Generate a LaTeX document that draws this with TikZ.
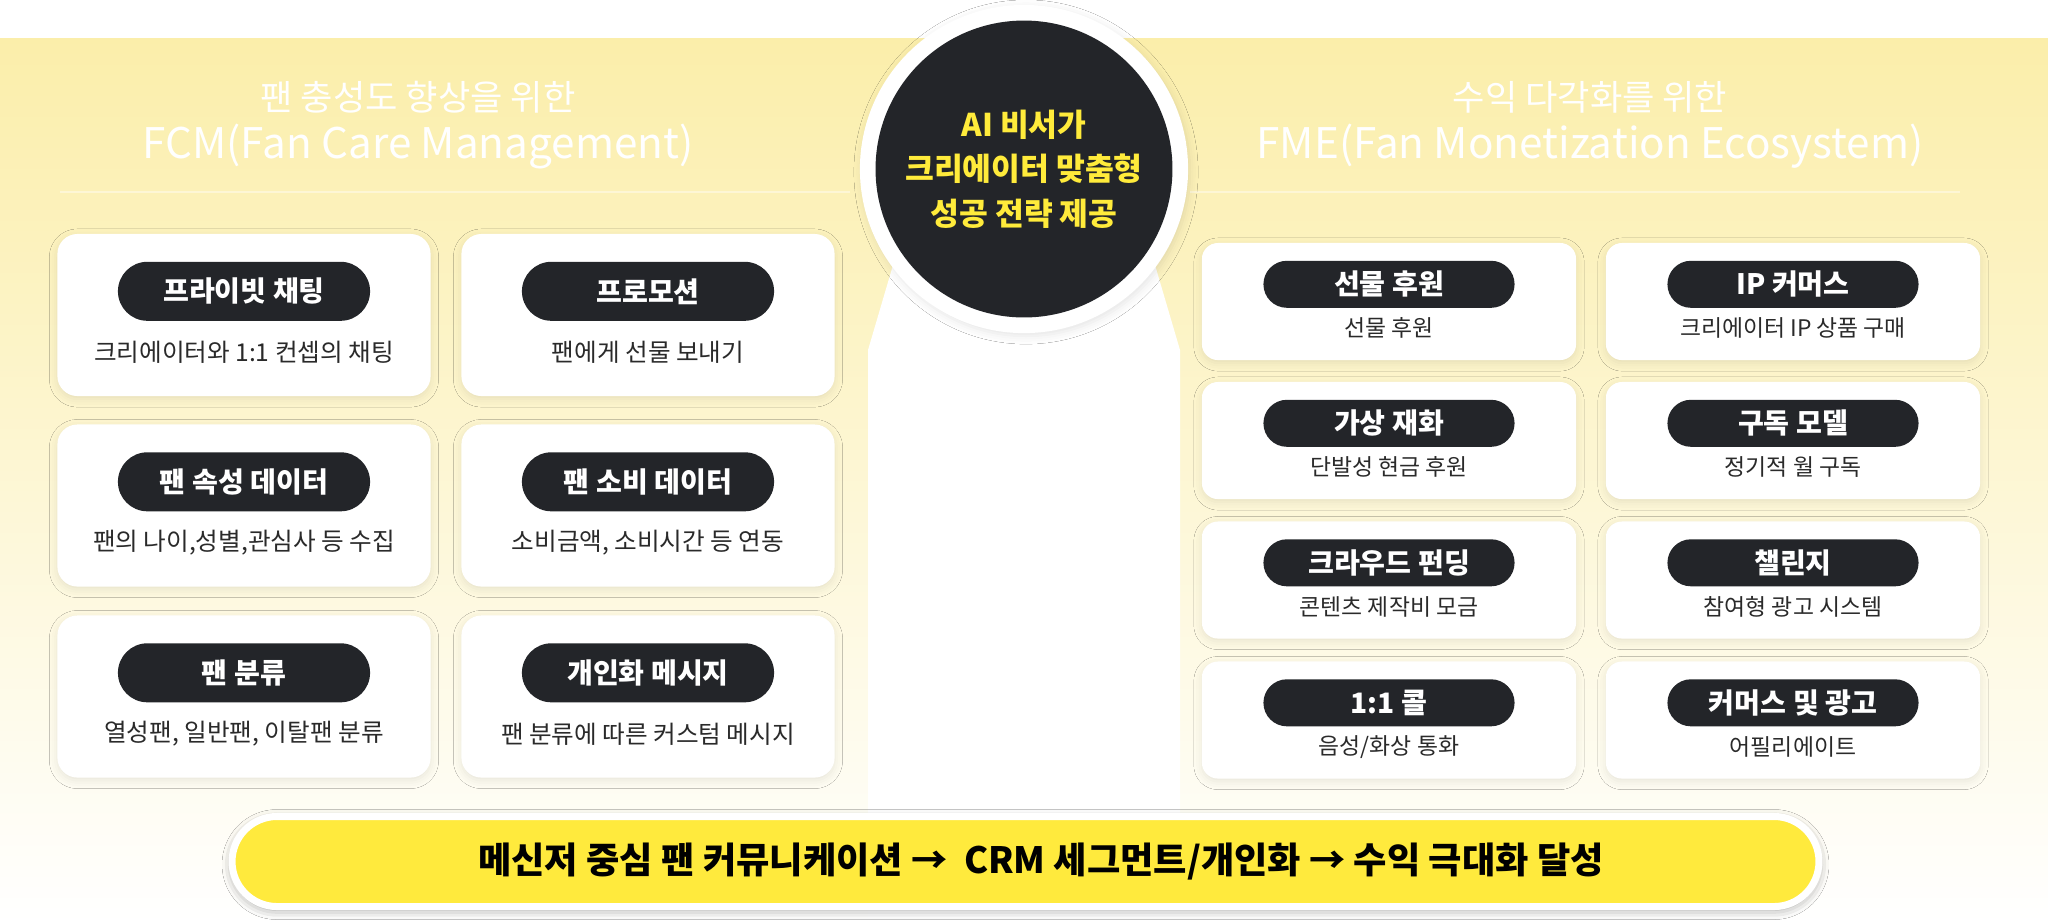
\documentclass[tikz,border=0pt]{standalone}
\usepackage{fontspec}
\setmainfont{Noto Sans CJK KR}
\usepackage{tikz}
\usetikzlibrary{shapes.misc, shadows.blur, positioning}
\definecolor{bgtop}{HTML}{FBEEAA}
\definecolor{bgmid}{HTML}{FCF4CD}
\definecolor{pill}{HTML}{232529}
\definecolor{aiyellow}{HTML}{FFEB3B}
\definecolor{barfill}{HTML}{FFEA3D}
\definecolor{subtext}{HTML}{2A2A2A}

\begin{document}
\begin{tikzpicture}[
  x=0.01cm, y=-0.01cm,
  head/.style={text=white, font=\fontsize{10}{12}\selectfont},
  headname/.style={text=white, font=\fontsize{12}{14}\selectfont},
  fcmcard/.style={fill=white, rounded corners=0.2cm, minimum width=3.73cm,
    minimum height=1.62cm, inner sep=0pt,
    blur shadow={shadow xshift=0pt, shadow yshift=-0.03cm, shadow blur radius=0.08cm, shadow opacity=9}},
  fmecard/.style={fill=white, rounded corners=0.16cm, minimum width=3.74cm,
    minimum height=1.17cm, inner sep=0pt,
    blur shadow={shadow xshift=0pt, shadow yshift=-0.03cm, shadow blur radius=0.08cm, shadow opacity=9}},
  fcmtag/.style={rounded rectangle, fill=pill, text=white, inner sep=0pt,
    minimum width=2.52cm, minimum height=0.59cm, font=\bfseries\fontsize{8}{9}\selectfont},
  fmetag/.style={rounded rectangle, fill=pill, text=white, inner sep=0pt,
    minimum width=2.51cm, minimum height=0.47cm, font=\bfseries\fontsize{8}{9}\selectfont},
  fcmsub/.style={text=subtext, inner sep=0pt, font=\fontsize{7}{8}\selectfont},
  fmesub/.style={text=subtext, inner sep=0pt, font=\fontsize{6.5}{7}\selectfont}
]
\useasboundingbox (0,0) rectangle (2048,923);
\fill[white] (0,0) rectangle (2048,923);
\shade[top color=bgtop, middle color=bgmid, bottom color=white] (0,38) rectangle (2048,923);
\draw[white, opacity=0.4, line width=0.02cm] (60,192) -- (850,192);
\draw[white, opacity=0.4, line width=0.02cm] (1190,192) -- (1960,192);
% white column under the circle
\fill[white] (893,265) -- (868,350) -- (868,923) -- (1180,923) -- (1180,350) -- (1155,265) -- cycle;

% headers
\node[head] (fcmhead) at (418,97) {팬 충성도 향상을 위한};
\node[headname] (fcmname) at (418,146) {FCM(Fan Care Management)};
\node[head] (fmehead) at (1590,97) {수익 다각화를 위한};
\node[headname] (fmename) at (1590,146) {FME(Fan Monetization Ecosystem)};

% center circle
\node[circle, fill=white, minimum size=3.28cm,
  blur shadow={shadow xshift=0.02cm, shadow yshift=-0.03cm, shadow blur radius=0.08cm, shadow opacity=10}] (ring) at (1024,169) {};
\node[circle, fill=pill, minimum size=2.84cm, text=aiyellow, align=center,
  font=\bfseries\fontsize{8.9}{12.6}\selectfont] (ai) at (1024,169) {AI 비서가\\크리에이터 맞춤형\\성공 전략 제공};

% FCM cards
\node[fcmcard] (chat) at (244,315) {};
\node[fcmtag] (chattag) at ([yshift=-0.58cm]chat.north) {프라이빗 채팅};
\node[fcmsub] (chatsub) at ([yshift=-1.19cm]chat.north) {크리에이터와 1:1 컨셉의 채팅};
\node[fcmcard] (promo) at (648,315) {};
\node[fcmtag] (promotag) at ([yshift=-0.58cm]promo.north) {프로모션};
\node[fcmsub] (promosub) at ([yshift=-1.19cm]promo.north) {팬에게 선물 보내기};
\node[fcmcard] (attr) at (244,505.5) {};
\node[fcmtag] (attrtag) at ([yshift=-0.58cm]attr.north) {팬 속성 데이터};
\node[fcmsub] (attrsub) at ([yshift=-1.19cm]attr.north) {팬의 나이,성별,관심사 등 수집};
\node[fcmcard] (spend) at (648,505.5) {};
\node[fcmtag] (spendtag) at ([yshift=-0.58cm]spend.north) {팬 소비 데이터};
\node[fcmsub] (spendsub) at ([yshift=-1.19cm]spend.north) {소비금액, 소비시간 등 연동};
\node[fcmcard] (group) at (244,696.5) {};
\node[fcmtag] (grouptag) at ([yshift=-0.58cm]group.north) {팬 분류};
\node[fcmsub] (groupsub) at ([yshift=-1.19cm]group.north) {열성팬, 일반팬, 이탈팬 분류};
\node[fcmcard] (msg) at (648,696.5) {};
\node[fcmtag] (msgtag) at ([yshift=-0.58cm]msg.north) {개인화 메시지};
\node[fcmsub] (msgsub) at ([yshift=-1.19cm]msg.north) {팬 분류에 따른 커스텀 메시지};

% FME cards
\node[fmecard] (gift) at (1389,301.5) {};
\node[fmetag] (gifttag) at ([yshift=-0.42cm]gift.north) {선물 후원};
\node[fmesub] (giftsub) at ([yshift=-0.86cm]gift.north) {선물 후원};
\node[fmecard] (ipshop) at (1793,301.5) {};
\node[fmetag] (ipshoptag) at ([yshift=-0.42cm]ipshop.north) {IP 커머스};
\node[fmesub] (ipshopsub) at ([yshift=-0.86cm]ipshop.north) {크리에이터 IP 상품 구매};
\node[fmecard] (coin) at (1389,440.5) {};
\node[fmetag] (cointag) at ([yshift=-0.42cm]coin.north) {가상 재화};
\node[fmesub] (coinsub) at ([yshift=-0.86cm]coin.north) {단발성 현금 후원};
\node[fmecard] (subs) at (1793,440.5) {};
\node[fmetag] (substag) at ([yshift=-0.42cm]subs.north) {구독 모델};
\node[fmesub] (subssub) at ([yshift=-0.86cm]subs.north) {정기적 월 구독};
\node[fmecard] (fund) at (1389,580) {};
\node[fmetag] (fundtag) at ([yshift=-0.42cm]fund.north) {크라우드 펀딩};
\node[fmesub] (fundsub) at ([yshift=-0.86cm]fund.north) {콘텐츠 제작비 모금};
\node[fmecard] (chal) at (1793,580) {};
\node[fmetag] (chaltag) at ([yshift=-0.42cm]chal.north) {챌린지};
\node[fmesub] (chalsub) at ([yshift=-0.86cm]chal.north) {참여형 광고 시스템};
\node[fmecard] (call) at (1389,720) {};
\node[fmetag] (calltag) at ([yshift=-0.42cm]call.north) {1:1 콜};
\node[fmesub] (callsub) at ([yshift=-0.86cm]call.north) {음성/화상 통화};
\node[fmecard] (ads) at (1793,720) {};
\node[fmetag] (adstag) at ([yshift=-0.42cm]ads.north) {커머스 및 광고};
\node[fmesub] (adssub) at ([yshift=-0.86cm]ads.north) {어필리에이트};

% bottom goal bar
\node[rounded rectangle, fill=barfill, draw=white, line width=0.07cm,
  minimum width=15.86cm, minimum height=0.9cm, inner sep=0pt,
  blur shadow={shadow xshift=0pt, shadow yshift=-0.03cm, shadow blur radius=0.1cm, shadow opacity=40}]
  (goal) at (1025.5,861.5) {};
\node[font=\bfseries\fontsize{10.3}{12}\selectfont, inner sep=0pt]
  (goaltext) at ([xshift=0.155cm]goal.center) {메신저 중심 팬 커뮤니케이션 →~ CRM 세그먼트/개인화 → 수익 극대화 달성};
\end{tikzpicture}
\end{document}
